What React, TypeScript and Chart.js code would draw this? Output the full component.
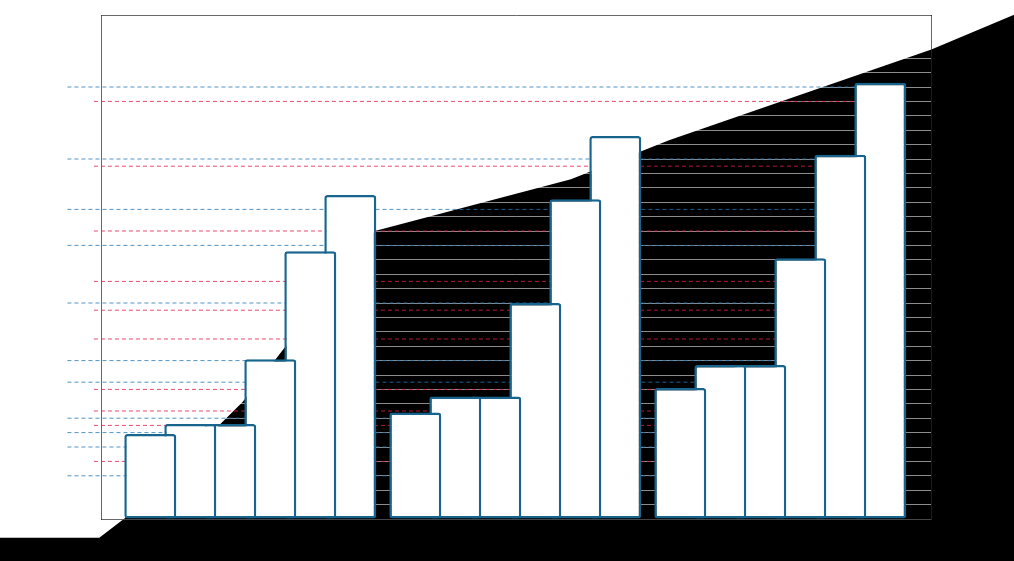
import React, { useEffect, useRef } from 'react';
import { Chart, registerables } from 'chart.js';

Chart.register(...registerables);

// ---- data ----
const categories = ['Group 1', 'Group 2', 'Group 3'];

const series1 = [5.9, 7.4, 9.1];
const series2 = [6.6, 8.5, 10.7];
const series3 = [6.6, 8.5, 10.7];
const series4 = [11.1, 15.0, 18.1];
const series5 = [18.6, 22.2, 25.3];
const series6 = [22.5, 26.6, 30.3];

const blueLevels = [30, 25, 21.5, 19, 15, 11, 9.5, 7, 6, 5, 3];
const redLevels = [29, 24.5, 20, 16.5, 14.5, 12.5, 9, 7.5, 6.5, 4];
const blueStart = -0.69;
const redStart = -0.59;
const levelEnd = 2.38;

// dark backdrop area (x in category units, y in value units)
const areaX = [-0.98, -0.57, -0.47, -0.03, 0.47, 1.21, 1.58, 2.57, 2.88, 3.21];
const areaY = [-1.3, -1.3, 0.1, 8.1, 20.0, 23.6, 26.3, 32.6, 35.0, 37.3];

const yMin = 0;
const yMax = 35;
const yStep = 1;
const xMin = -0.5634;
const xMax = 2.5687;

const allSeries = [series1, series2, series3, series4, series5, series6];

const backdropPlugin = {
  id: 'backdropArea',
  beforeDraw(chart: any) {
    const { ctx, scales, height } = chart;
    const xs = scales.x;
    const ys = scales.y;
    const px = areaX.map((v) => xs.getPixelForValue(v));
    const py = areaY.map((v) => ys.getPixelForValue(v));
    ctx.save();
    ctx.fillStyle = '#000000';
    ctx.beginPath();
    ctx.moveTo(px[0], height + 10);
    for (let i = 0; i < px.length; i++) ctx.lineTo(px[i], py[i]);
    ctx.lineTo(px[px.length - 1], height + 10);
    ctx.closePath();
    ctx.fill();
    ctx.restore();
  },
};

export default function App() {
  const canvasRef = useRef<HTMLCanvasElement | null>(null);

  useEffect(() => {
    if (!canvasRef.current) return;

    const barSets = allSeries.map((s, k) => ({
      type: 'bar' as const,
      label: 'Series ' + (k + 1),
      data: s.map((v, i) => ({ x: i, y: v })),
      backgroundColor: '#ffffff',
      borderColor: '#17658e',
      borderWidth: 2.5,
      borderRadius: 3,
      borderSkipped: false,
      categoryPercentage: 0.9057,
      barPercentage: 1.3,
      order: 0,
    }));

    const mkLevel = (v: number, start: number, color: string) => ({
      type: 'line' as const,
      label: 'level ' + v,
      data: [
        { x: start, y: v },
        { x: levelEnd, y: v },
      ],
      borderColor: color,
      borderWidth: 1,
      borderDash: [4, 3],
      pointRadius: 0,
      fill: false,
      clip: false,
      tension: 0,
      order: 10,
    });

    const levelSets = [
      ...blueLevels.map((v) => mkLevel(v, blueStart, 'rgba(35,120,180,0.8)')),
      ...redLevels.map((v) => mkLevel(v, redStart, 'rgba(225,30,70,0.8)')),
    ];

    const borderColor = 'rgba(40,40,40,0.7)';

    const chart = new Chart(canvasRef.current, {
      type: 'bar',
      data: {
        labels: categories,
        datasets: [...barSets, ...levelSets] as any,
      },
      options: {
        animation: false,
        responsive: true,
        maintainAspectRatio: false,
        layout: { padding: { left: 101, right: 83, top: 15, bottom: 42 } },
        plugins: {
          legend: { display: false },
          tooltip: { enabled: false },
          title: { display: false },
        },
        scales: {
          x: {
            type: 'linear',
            min: xMin,
            max: xMax,
            offset: false,
            bounds: 'data',
            position: 'bottom',
            afterBuildTicks: (scale: any) => {
              scale.ticks = categories.map((_, i) => ({ value: i }));
            },
            grid: { display: false, drawTicks: false, offset: false },
            ticks: { display: false },
            border: { display: true, color: borderColor, width: 1 },
          },
          y: {
            type: 'linear',
            min: yMin,
            max: yMax,
            position: 'left',
            grid: { display: true, color: 'rgba(255,255,255,0.55)', lineWidth: 1, drawTicks: false },
            ticks: { display: false, stepSize: yStep },
            border: { display: true, color: borderColor, width: 1 },
          },
          x2: {
            type: 'linear',
            position: 'top',
            grid: { display: false, drawTicks: false },
            ticks: { display: false },
            border: { display: true, color: borderColor, width: 1 },
          },
          y2: {
            type: 'linear',
            position: 'right',
            grid: { display: false, drawTicks: false },
            ticks: { display: false },
            border: { display: true, color: borderColor, width: 1 },
          },
        },
      } as any,
      plugins: [backdropPlugin],
    });

    return () => chart.destroy();
  }, []);

  return (
    <div style={{ position: 'fixed', left: 0, top: 0, width: 1014, height: 561 }}>
      <canvas ref={canvasRef} />
    </div>
  );
}
